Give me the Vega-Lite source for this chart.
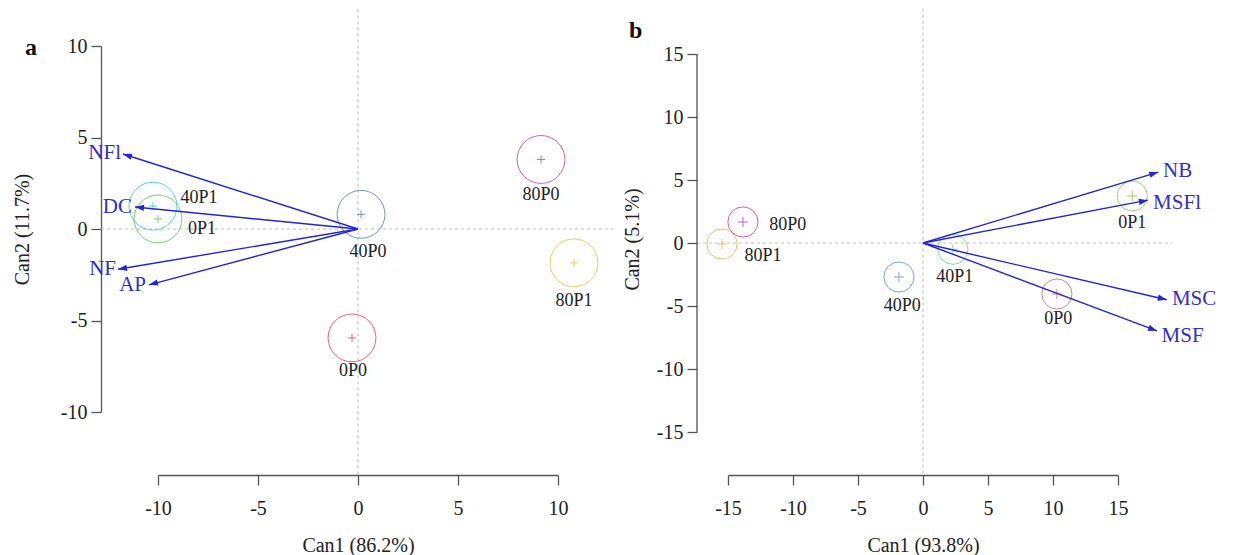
{
  "$schema": "https://vega.github.io/schema/vega-lite/v6.json",
  "background": "white",
  "padding": {"left": 12, "top": 8, "right": 5, "bottom": 2},
  "spacing": 8,
  "align": "none",
  "config": {
    "view": {"stroke": null},
    "font": "Liberation Serif",
    "axis": {
      "grid": false,
      "domainColor": "#555555",
      "domainWidth": 1.3,
      "tickColor": "#555555",
      "tickWidth": 1.3,
      "tickSize": 10,
      "labelFont": "Liberation Serif",
      "labelFontSize": 20,
      "labelColor": "#222222",
      "labelFlush": false,
      "labelOverlap": false,
      "labelPadding": 4,
      "labelExpr": "datum.value < 0 ? '-' + format(-datum.value, 'd') : format(datum.value, 'd')",
      "titleFont": "Liberation Serif",
      "titleFontSize": 20,
      "titleFontWeight": "normal",
      "titleColor": "#222222"
    },
    "axisX": {"labelPadding": 13}
  },
  "resolve": {"scale": {"x": "independent", "y": "independent", "color": "independent"}},
  "datasets": {
    "groupsA": [
      {"g": "80P0", "x": 9.15, "y": 3.8, "lx": 9.15, "ly": 1.86},
      {"g": "80P1", "x": 10.8, "y": -1.85, "lx": 10.8, "ly": -3.93},
      {"g": "40P0", "x": 0.15, "y": 0.8, "lx": 0.5, "ly": -1.26},
      {"g": "0P0", "x": -0.3, "y": -5.95, "lx": -0.25, "ly": -7.76},
      {"g": "40P1", "x": -10.25, "y": 1.25, "lx": -7.95, "ly": 1.7},
      {"g": "0P1", "x": -10.0, "y": 0.55, "lx": -7.8, "ly": 0.0}
    ],
    "arrowsA": [
      {"v": "NFl", "x": -11.75, "y": 4.1, "lx": -11.85, "ly": 4.15},
      {"v": "DC", "x": -11.15, "y": 1.2, "lx": -11.3, "ly": 1.2},
      {"v": "NF", "x": -12.0, "y": -2.2, "lx": -12.1, "ly": -2.2},
      {"v": "AP", "x": -10.45, "y": -3.05, "lx": -10.6, "ly": -3.05}
    ],
    "groupsB": [
      {"g": "80P0", "x": -13.85, "y": 1.67, "lx": -10.4, "ly": 1.43},
      {"g": "80P1", "x": -15.46, "y": -0.08, "lx": -12.3, "ly": -1.03},
      {"g": "40P0", "x": -1.85, "y": -2.7, "lx": -1.6, "ly": -5.0},
      {"g": "40P1", "x": 2.3, "y": -0.5, "lx": 2.45, "ly": -2.7},
      {"g": "0P1", "x": 16.1, "y": 3.73, "lx": 16.1, "ly": 1.6},
      {"g": "0P0", "x": 10.3, "y": -4.05, "lx": 10.4, "ly": -6.0}
    ],
    "arrowsB": [
      {"v": "NB", "x": 18.1, "y": 5.63, "lx": 18.46, "ly": 5.7},
      {"v": "MSFl", "x": 17.3, "y": 3.4, "lx": 17.7, "ly": 3.2},
      {"v": "MSC", "x": 18.75, "y": -4.5, "lx": 19.15, "ly": -4.45},
      {"v": "MSF", "x": 18.0, "y": -6.98, "lx": 18.35, "ly": -7.4}
    ]
  },
  "hconcat": [
    {
      "width": 400,
      "height": 366,
      "layer": [
        {
          "data": {"values": [{"a": -12.85, "b": 12.75, "c": 0}]},
          "mark": {"type": "rule", "color": "#bdbdbd", "strokeDash": [3, 3], "strokeWidth": 1},
          "encoding": {
            "x": {"field": "a", "type": "quantitative",
                  "scale": {"domain": [-10, 10], "nice": false, "zero": false},
                  "axis": {"values": [-10, -5, 0, 5, 10], "offset": 63, "title": "Can1 (86.2%)", "titlePadding": 17}},
            "x2": {"field": "b"},
            "y": {"field": "c", "type": "quantitative",
                  "scale": {"domain": [-10, 10], "nice": false, "zero": false},
                  "axis": {"values": [-10, -5, 0, 5, 10], "offset": 57, "title": "Can2 (11.7%)", "titlePadding": 28}}
          }
        },
        {
          "data": {"values": [{"a": 0, "b": 12, "c": -13.45}]},
          "mark": {"type": "rule", "color": "#bdbdbd", "strokeDash": [3, 3], "strokeWidth": 1},
          "encoding": {
            "x": {"field": "a", "type": "quantitative"},
            "y": {"field": "b", "type": "quantitative"},
            "y2": {"field": "c"}
          }
        },
        {
          "data": {"name": "groupsA"},
          "mark": {"type": "point", "shape": "circle", "filled": false, "size": 2290, "strokeWidth": 1, "opacity": 0.85},
          "encoding": {
            "x": {"field": "x", "type": "quantitative"},
            "y": {"field": "y", "type": "quantitative"},
            "color": {"field": "g", "type": "nominal", "legend": null,
                      "scale": {"domain": ["0P0", "80P1", "0P1", "40P1", "40P0", "80P0"],
                                "range": ["#e04a64", "#e0cc40", "#5cc85c", "#3cd0d0", "#5a86cc", "#cc44bb"]}}
          }
        },
        {
          "data": {"name": "groupsA"},
          "mark": {"type": "point", "shape": "M-1,0L1,0M0,-1L0,1", "filled": false, "size": 64, "strokeWidth": 1, "opacity": 0.85},
          "encoding": {
            "x": {"field": "x", "type": "quantitative"},
            "y": {"field": "y", "type": "quantitative"},
            "color": {"field": "g", "type": "nominal", "legend": null}
          }
        },
        {
          "data": {"name": "groupsA"},
          "mark": {"type": "text", "fontSize": 18, "color": "#222222", "align": "center", "baseline": "middle"},
          "encoding": {
            "x": {"field": "lx", "type": "quantitative"},
            "y": {"field": "ly", "type": "quantitative"},
            "text": {"field": "g", "type": "nominal"}
          }
        },
        {
          "data": {"name": "arrowsA"},
          "mark": {"type": "rule", "color": "#2424d8", "strokeWidth": 1.4},
          "encoding": {
            "x": {"field": "x", "type": "quantitative"},
            "y": {"field": "y", "type": "quantitative"},
            "x2": {"datum": 0},
            "y2": {"datum": 0}
          }
        },
        {
          "data": {"name": "arrowsA"},
          "transform": [{"calculate": "atan2(-datum.y * 18.3, datum.x * 20) * 180 / PI", "as": "ang"}],
          "mark": {"type": "point", "shape": "M0,0L-2,-0.7L-2,0.7Z", "filled": true, "size": 81, "color": "#2424d8", "opacity": 1},
          "encoding": {
            "x": {"field": "x", "type": "quantitative"},
            "y": {"field": "y", "type": "quantitative"},
            "angle": {"field": "ang", "type": "quantitative", "scale": null}
          }
        },
        {
          "data": {"name": "arrowsA"},
          "mark": {"type": "text", "fontSize": 21, "color": "#3030cc", "align": "right", "baseline": "middle"},
          "encoding": {
            "x": {"field": "lx", "type": "quantitative"},
            "y": {"field": "ly", "type": "quantitative"},
            "text": {"field": "v", "type": "nominal"}
          }
        },
        {
          "data": {"values": [{"t": "a", "px": -16.35, "py": 9.9}]},
          "mark": {"type": "text", "fontSize": 24, "fontWeight": "bold", "color": "#111111", "align": "center", "baseline": "middle"},
          "encoding": {
            "x": {"field": "px", "type": "quantitative"},
            "y": {"field": "py", "type": "quantitative"},
            "text": {"field": "t", "type": "nominal"}
          }
        }
      ]
    },
    {
      "width": 390,
      "height": 386,
      "layer": [
        {
          "data": {"values": [{"a": -17.4, "b": 19.15, "c": 0}]},
          "mark": {"type": "rule", "color": "#bdbdbd", "strokeDash": [3, 3], "strokeWidth": 1},
          "encoding": {
            "x": {"field": "a", "type": "quantitative",
                  "scale": {"domain": [-15, 15], "nice": false, "zero": false},
                  "axis": {"values": [-15, -10, -5, 0, 5, 10, 15], "offset": 43, "title": "Can1 (93.8%)", "titlePadding": 17}},
            "x2": {"field": "b"},
            "y": {"field": "c", "type": "quantitative",
                  "scale": {"domain": [-15, 15.635], "nice": false, "zero": false},
                  "axis": {"values": [-15, -10, -5, 0, 5, 10, 15], "offset": 31, "domain": false, "title": "Can2 (5.1%)", "titlePadding": 14}}
          }
        },
        {
          "data": {"values": [{"a": 0, "b": 18.6, "c": -18.4}]},
          "mark": {"type": "rule", "color": "#bdbdbd", "strokeDash": [3, 3], "strokeWidth": 1},
          "encoding": {
            "x": {"field": "a", "type": "quantitative"},
            "y": {"field": "b", "type": "quantitative"},
            "y2": {"field": "c"}
          }
        },
        {
          "data": {"values": [{"a": -17.385, "b": -15, "c": 15}]},
          "mark": {"type": "rule", "color": "#555555", "strokeWidth": 1.3},
          "encoding": {
            "x": {"field": "a", "type": "quantitative"},
            "y": {"field": "b", "type": "quantitative"},
            "y2": {"field": "c"}
          }
        },
        {
          "data": {"name": "groupsB"},
          "mark": {"type": "point", "shape": "circle", "filled": false, "size": 908, "strokeWidth": 1, "opacity": 0.85},
          "encoding": {
            "x": {"field": "x", "type": "quantitative"},
            "y": {"field": "y", "type": "quantitative"},
            "color": {"field": "g", "type": "nominal", "legend": null,
                      "scale": {"domain": ["0P0", "80P1", "0P1", "40P1", "40P0", "80P0"],
                                "range": ["#d0708a", "#f0b060", "#90c860", "#70d0c0", "#6a96cc", "#c044aa"]}}
          }
        },
        {
          "data": {"name": "groupsB"},
          "mark": {"type": "point", "shape": "M-1,0L1,0M0,-1L0,1", "filled": false, "size": 100, "strokeWidth": 1, "opacity": 0.85},
          "encoding": {
            "x": {"field": "x", "type": "quantitative"},
            "y": {"field": "y", "type": "quantitative"},
            "color": {"field": "g", "type": "nominal", "legend": null}
          }
        },
        {
          "data": {"name": "groupsB"},
          "mark": {"type": "text", "fontSize": 18, "color": "#222222", "align": "center", "baseline": "middle"},
          "encoding": {
            "x": {"field": "lx", "type": "quantitative"},
            "y": {"field": "ly", "type": "quantitative"},
            "text": {"field": "g", "type": "nominal"}
          }
        },
        {
          "data": {"name": "arrowsB"},
          "mark": {"type": "rule", "color": "#2424d8", "strokeWidth": 1.4},
          "encoding": {
            "x": {"field": "x", "type": "quantitative"},
            "y": {"field": "y", "type": "quantitative"},
            "x2": {"datum": 0},
            "y2": {"datum": 0}
          }
        },
        {
          "data": {"name": "arrowsB"},
          "transform": [{"calculate": "atan2(-datum.y * 12.6, datum.x * 13) * 180 / PI", "as": "ang"}],
          "mark": {"type": "point", "shape": "M0,0L-2,-0.7L-2,0.7Z", "filled": true, "size": 81, "color": "#2424d8", "opacity": 1},
          "encoding": {
            "x": {"field": "x", "type": "quantitative"},
            "y": {"field": "y", "type": "quantitative"},
            "angle": {"field": "ang", "type": "quantitative", "scale": null}
          }
        },
        {
          "data": {"name": "arrowsB"},
          "mark": {"type": "text", "fontSize": 21, "color": "#3030cc", "align": "left", "baseline": "middle"},
          "encoding": {
            "x": {"field": "lx", "type": "quantitative"},
            "y": {"field": "ly", "type": "quantitative"},
            "text": {"field": "v", "type": "nominal"}
          }
        },
        {
          "data": {"values": [{"t": "b", "px": -22.1, "py": 16.8}]},
          "mark": {"type": "text", "fontSize": 24, "fontWeight": "bold", "color": "#111111", "align": "center", "baseline": "middle"},
          "encoding": {
            "x": {"field": "px", "type": "quantitative"},
            "y": {"field": "py", "type": "quantitative"},
            "text": {"field": "t", "type": "nominal"}
          }
        }
      ]
    }
  ]
}
